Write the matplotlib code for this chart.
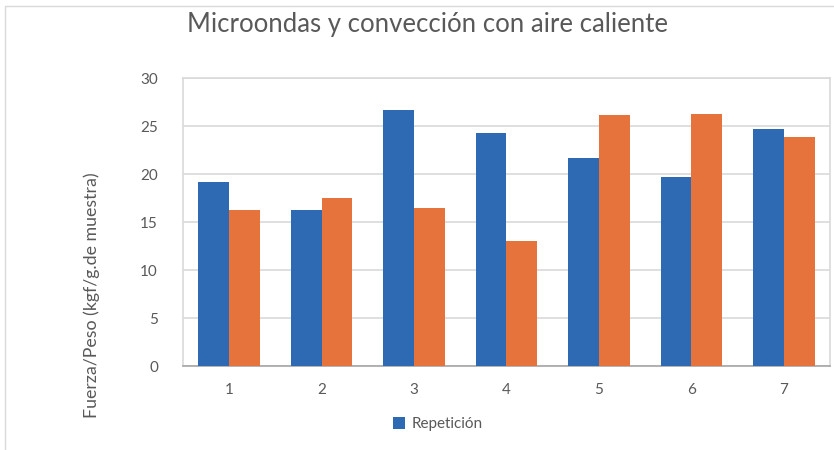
import matplotlib
matplotlib.use("Agg")
import matplotlib.pyplot as plt
from matplotlib.patches import Rectangle
import numpy as np

categories = ["1", "2", "3", "4", "5", "6", "7"]
serie_a = [19.2, 16.2, 26.7, 24.3, 21.7, 19.7, 24.7]
serie_b = [16.2, 17.5, 16.5, 13.0, 26.1, 26.3, 23.9]
yticks = [0, 5, 10, 15, 20, 25, 30]

plt.rcParams['font.family'] = ['Lato', 'DejaVu Sans']

fig = plt.figure(figsize=(8.34, 4.5), dpi=100)
ax = fig.add_axes([183 / 834, 1 - 366 / 450, (830 - 183) / 834, (366 - 78) / 450])

x = np.arange(1, len(categories) + 1)
w = 0.333
blue = '#2e6ab4'
orange = '#e6733b'
ax.bar(x - w / 2, serie_a, w, color=blue, label='Repetición', zorder=3)
ax.bar(x + w / 2, serie_b, w, color=orange, zorder=3)

ax.set_xlim(0.5, 7.5)
ax.set_ylim(0, 30)
ax.set_yticks(yticks)
ax.set_xticks(x)
ax.set_xticklabels(categories)
ax.grid(axis='y', color='#d9d9d9', linewidth=1.2, zorder=0)
for side in ['top', 'right', 'left']:
    ax.spines[side].set_color('#d9d9d9')
    ax.spines[side].set_linewidth(1.2)
ax.spines['bottom'].set_color('#a6a6a6')
ax.spines['bottom'].set_linewidth(1.2)
ax.tick_params(length=0, labelsize=11, labelcolor='#595959', pad=12)
ax.tick_params(axis='y', pad=18)

fig.text(427 / 834, 0.945, 'Microondas y convección con aire caliente', ha='center', va='center',
         fontsize=18.5, color='#595959')
fig.text(92 / 834, 1 - 295 / 450, 'Fuerza/Peso (kgf/g.de muestra)', rotation=90,
         ha='center', va='center', fontsize=12.8, color='#595959')

leg = ax.legend(loc='center', bbox_to_anchor=(438 / 834, 1 - 424 / 450),
                bbox_transform=fig.transFigure, frameon=False, fontsize=11,
                handlelength=0.8, handleheight=0.8, handletextpad=0.4)
for t in leg.get_texts():
    t.set_color('#595959')

fig.patches.append(Rectangle((5 / 834, -0.1), 1.1, 1 - 6 / 450 + 0.1, transform=fig.transFigure,
                             fill=False, edgecolor='#d9d9d9', linewidth=1))

fig.savefig('out.png', dpi=100)
